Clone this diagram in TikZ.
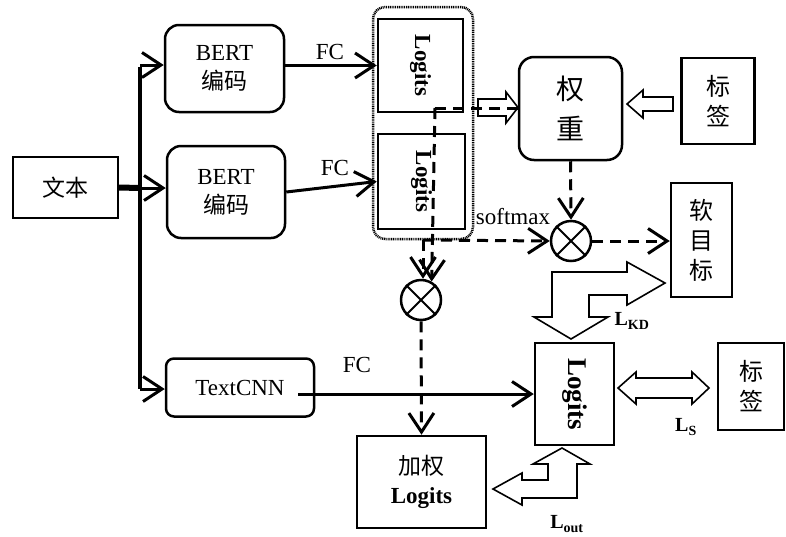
\documentclass[tikz,border=0pt]{standalone}
\usepackage{fontspec}
\usepackage{graphicx}
\setmainfont{Liberation Serif}
\newfontfamily\cjk{Noto Sans CJK SC}
\usetikzlibrary{arrows.meta}

\tikzset{
  box/.style={draw, line width=2.5pt, inner sep=0pt, align=center},
  rbox/.style={box, rounded corners=14pt},
  zh/.style={font=\cjk\fontsize{24}{30}\selectfont},
  arr/.style={line width=3pt, -{Straight Barb[length=19pt,width=25pt]}},
  darr/.style={arr, dash pattern=on 11pt off 7pt},
  dline/.style={line width=3pt, dash pattern=on 11pt off 7pt},
  hollow/.style={draw, line width=1.6pt, line join=miter},
  otimes/.style={draw, circle, line width=2.5pt, minimum size=40pt, inner sep=0pt},
}

\begin{document}
\begin{tikzpicture}[x=1pt,y=-1pt,font=\fontsize{23}{29}\selectfont]
\useasboundingbox (0,0) rectangle (786,536);

\node[box, line width=2pt, minimum width=105pt, minimum height=61pt] (wenben) at (65.5,187.5) {\cjk 文本};
\node[rbox, minimum width=119pt, minimum height=87pt] (bert1) at (224.5,68.5) {BERT\\{\cjk 编码}};
\node[rbox, minimum width=118pt, minimum height=92pt] (bert2) at (226,192) {BERT\\{\cjk 编码}};
\node[rbox, rounded corners=8pt, minimum width=148pt, minimum height=58pt] (textcnn) at (240,387.5) {TextCNN};

\node[draw, line width=2.5pt, dash pattern=on 1pt off 0.8pt, rounded corners=12pt, minimum width=100pt, minimum height=232pt] (teacher) at (423,123) {};
\node[box, minimum width=85pt, minimum height=93pt] (logits1) at (420.5,65.5) {\rotatebox{-90}{\bfseries Logits}};
\node[box, minimum width=87pt, minimum height=95pt] (logits2) at (421.5,181.5) {\rotatebox{-90}{\bfseries Logits}};

\node[rbox, rounded corners=15pt, minimum width=103pt, minimum height=103pt, font=\cjk\fontsize{28}{40}\selectfont] (quanzhong) at (570.5,108.5) {权\\重};
\node[box, zh, minimum width=73pt, minimum height=86pt] (label1) at (718,101) {标\\签};
\node[otimes] (mul1) at (571,241) {};
\node[otimes] (mul2) at (421,300) {};
\node[box, zh, minimum width=61pt, minimum height=114pt] (soft) at (701.5,240) {软\\目\\标};

\node[box, minimum width=79pt, minimum height=102pt] (logits3) at (574.5,394) {\rotatebox{-90}{\fontsize{27}{30}\selectfont\bfseries Logits}};
\node[box, minimum width=129pt, minimum height=92pt] (jiaquan) at (421.5,482) {{\cjk 加权}\\\bfseries Logits};
\node[box, zh, minimum width=66pt, minimum height=87pt] (label2) at (751,386.5) {标\\签};

\foreach \m in {mul1,mul2} {
  \draw[line width=2pt] (\m.north west) -- (\m.south east) (\m.north east) -- (\m.south west);
}

% input bus
\coordinate (bustop) at (140,65);
\coordinate (busmid) at (140,188);
\coordinate (busbot) at (140,389);
\draw[line width=3.5pt] ([yshift=-2pt]bustop) -- (busbot);
\draw[line width=6pt] (wenben.east) -- (busmid);
\draw[arr] (bustop) -- (bert1.west |- bustop);
\draw[arr] (busmid) -- (bert2.west |- busmid);
\draw[arr] (busbot) -- (textcnn.west |- busbot);

\draw[arr] (bert1.east |- logits1.west) -- (logits1.west);
\draw[arr] (bert2.east) -- (logits2.west);
\draw[arr] ([xshift=-17pt]textcnn.east |- logits3.west) -- (logits3.west);
\node (fc1) at (330,52) {FC};
\node (fc2) at (335,168) {FC};
\node (fc3) at (357,365) {FC};

% hollow arrows
\draw[hollow] (478,99) -- (506,99) -- (506,92) -- (518,107.5) -- (506,123) -- (506,116) -- (478,116) -- cycle;
\draw[hollow] (673,97) -- (643,97) -- (643,90) -- (627,104) -- (643,118) -- (643,111) -- (673,111) -- cycle;
\draw[hollow] (665,283) -- (627,262) -- (627,272) -- (552,272) -- (552,317) -- (534,317) -- (571,339)
  -- (608,317) -- (589,317) -- (589,295) -- (627,295) -- (627,305) -- cycle;
\draw[hollow] (562,448) -- (590,464) -- (577,464) -- (577,498) -- (522,498) -- (522,505) -- (493,489)
  -- (522,473) -- (522,480) -- (548,480) -- (548,464) -- (533,464) -- cycle;
\draw[hollow] (618,388) -- (636,372) -- (636,378) -- (692,378) -- (692,372) -- (709,388) -- (692,404)
  -- (692,398) -- (636,398) -- (636,404) -- cycle;

% dashed flows
\coordinate (tap1) at (435,108);
\coordinate (tap2) at (423,240);
\draw[dline] (tap1) -- (quanzhong.west |- tap1);
\draw[darr] (tap1) -- (mul2.60);
\draw[darr] (tap2) -- (tap2 |- mul2.north);
\draw[darr] (tap2) -- (mul1.west);
\draw[darr] (quanzhong.south) -- (mul1.north);
\draw[darr] (mul1.east) -- (soft.west |- mul1.east);
\draw[darr] (mul2.south) -- (jiaquan.north);

\node (softmax) at (513,217) {softmax};
\node (lkd) at (632,321) {\fontsize{20}{21}\selectfont\textbf{L}\textsubscript{\textbf{KD}}};
\node (ls) at (686,427) {\fontsize{20}{21}\selectfont\textbf{L}\textsubscript{\textbf{S}}};
\node (lout) at (567,524) {\fontsize{20}{21}\selectfont\textbf{L}\textsubscript{\textbf{out}}};
\end{tikzpicture}
\end{document}
